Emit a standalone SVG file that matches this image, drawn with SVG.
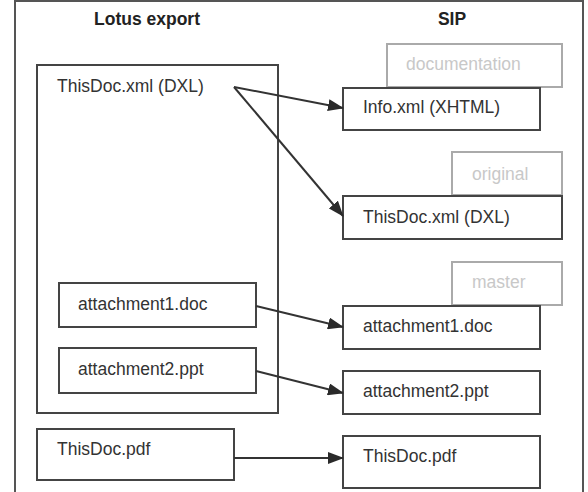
<svg xmlns="http://www.w3.org/2000/svg" width="588" height="492" viewBox="0 0 588 492">
<style>
.box{fill:#fff;stroke:#444;stroke-width:2}
.tag{fill:#fff;stroke:#aaa;stroke-width:2}
.t{font-family:"Liberation Sans",Arial,sans-serif;font-size:17.5px;fill:#333}
.tg{font-family:"Liberation Sans",Arial,sans-serif;font-size:17.5px;fill:#c8c8c8}
.h{font-family:"Liberation Sans",Arial,sans-serif;font-size:17.5px;font-weight:bold;fill:#222;text-anchor:middle}
.c{fill:none;stroke:#333;stroke-width:2}
</style>
<defs>
<marker id="arr" markerWidth="16" markerHeight="12" refX="15" refY="6" orient="auto" markerUnits="userSpaceOnUse">
<path d="M0,0 L16,6 L0,12 Z" fill="#2a2a2a"/>
</marker>
</defs>
<rect x="15" y="1" width="568" height="510" fill="#fff" stroke="#555" stroke-width="2"/>
<text class="h" x="147" y="25">Lotus export</text>
<text class="h" x="452" y="25">SIP</text>

<g id="lotus-doc">
<rect class="box" x="37" y="65" width="241" height="348"/>
<text class="t" x="57" y="92">ThisDoc.xml (DXL)</text>
</g>
<g id="lotus-att1">
<rect class="box" x="59" y="283" width="197" height="44"/>
<text class="t" x="78" y="310">attachment1.doc</text>
</g>
<g id="lotus-att2">
<rect class="box" x="59" y="348" width="197" height="45"/>
<text class="t" x="78" y="375">attachment2.ppt</text>
</g>
<g id="lotus-pdf">
<rect class="box" x="37" y="429" width="197" height="51"/>
<text class="t" x="57" y="455">ThisDoc.pdf</text>
</g>

<g id="tag-documentation">
<rect class="tag" x="387" y="44" width="175" height="43"/>
<text class="tg" x="406" y="70">documentation</text>
</g>
<g id="sip-info">
<rect class="box" x="343" y="88" width="197" height="42"/>
<text class="t" x="363" y="113">Info.xml (XHTML)</text>
</g>
<g id="tag-original">
<rect class="tag" x="452" y="152" width="110" height="43"/>
<text class="tg" x="472" y="180">original</text>
</g>
<g id="sip-dxl">
<rect class="box" x="343" y="196" width="219" height="43"/>
<text class="t" x="363" y="223">ThisDoc.xml (DXL)</text>
</g>
<g id="tag-master">
<rect class="tag" x="452" y="262" width="110" height="43"/>
<text class="tg" x="472" y="288">master</text>
</g>
<g id="sip-att1">
<rect class="box" x="343" y="306" width="197" height="43"/>
<text class="t" x="363" y="332">attachment1.doc</text>
</g>
<g id="sip-att2">
<rect class="box" x="343" y="371" width="197" height="43"/>
<text class="t" x="363" y="397">attachment2.ppt</text>
</g>
<g id="sip-pdf">
<rect class="box" x="343" y="436" width="197" height="52"/>
<text class="t" x="363" y="462">ThisDoc.pdf</text>
</g>

<g id="connectors">
<line class="c" x1="234" y1="87" x2="343" y2="108" marker-end="url(#arr)"/>
<line class="c" x1="234" y1="87" x2="343" y2="216" marker-end="url(#arr)"/>
<line class="c" x1="256" y1="306" x2="343" y2="327" marker-end="url(#arr)"/>
<line class="c" x1="256" y1="371" x2="343" y2="393" marker-end="url(#arr)"/>
<line class="c" x1="234" y1="458" x2="343" y2="458" marker-end="url(#arr)"/>
</g>
</svg>
